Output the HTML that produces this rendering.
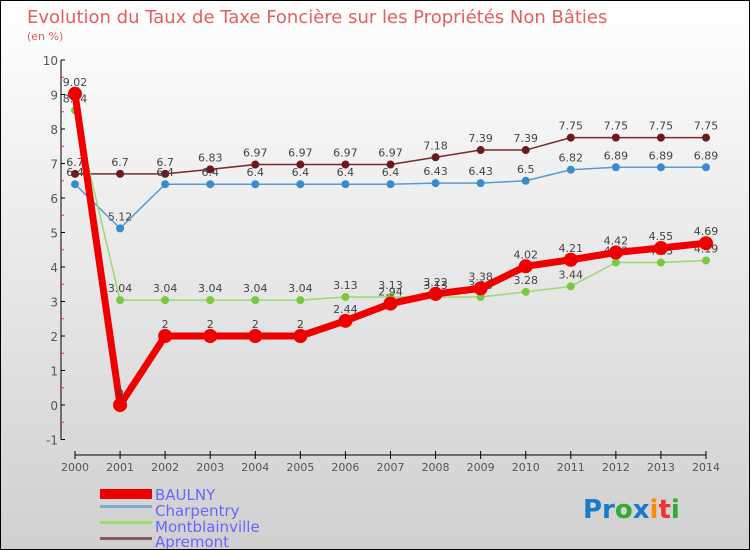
<!DOCTYPE html>
<html><head><meta charset="utf-8"><style>
body{margin:0}
#c{width:748px;height:548px;border:1px solid #000;background:linear-gradient(#fff,#d0d0d0);position:relative;font-family:"DejaVu Sans","Liberation Sans",sans-serif;overflow:hidden}
svg{position:absolute;left:0;top:0}
</style></head><body>
<div id="c">
<svg id="s" width="748" height="548" font-family="DejaVu Sans, Liberation Sans, sans-serif">
<text x="26" y="22" font-size="18" fill="#e06060">Evolution du Taux de Taxe Foncière sur les Propriétés Non Bâties</text>
<text x="26" y="39" font-size="11" fill="#e06060">(en %)</text>
<g font-size="15" fill="#6666ff">
<rect x="99" y="488" width="52" height="10" fill="#e00"/>
<text x="154" y="499">BAULNY</text>
<rect x="99" y="504" width="52" height="3" fill="#7aaad0"/>
<text x="154" y="515">Charpentry</text>
<rect x="99" y="520" width="52" height="3" fill="#9ad870"/>
<text x="154" y="531">Montblainville</text>
<rect x="99" y="536" width="52" height="3" fill="#8a5a5a"/>
<text x="154" y="546">Apremont</text>
</g>
<text x="582" y="517" font-size="26" font-weight="bold"><tspan fill="#1a7ac8">Pr</tspan><tspan fill="#3a3">o</tspan><tspan fill="#1a7ac8">x</tspan><tspan fill="#f80">i</tspan><tspan fill="#e33">t</tspan><tspan fill="#3a3">i</tspan></text>
</svg>
</div>
<script>
const years=["2000","2001","2002","2003","2004","2005","2006","2007","2008","2009","2010","2011","2012","2013","2014"];
const yTicks=[-1,0,1,2,3,4,5,6,7,8,9,10];
const baulny=[9.02,0,2,2,2,2,2.44,2.94,3.22,3.38,4.02,4.21,4.42,4.55,4.69];
const charpentry=[6.4,5.12,6.4,6.4,6.4,6.4,6.4,6.4,6.43,6.43,6.5,6.82,6.89,6.89,6.89];
const montblainville=[8.54,3.04,3.04,3.04,3.04,3.04,3.13,3.13,3.13,3.13,3.28,3.44,4.13,4.13,4.19];
const apremont=[6.7,6.7,6.7,6.83,6.97,6.97,6.97,6.97,7.18,7.39,7.39,7.75,7.75,7.75,7.75];
const NS="http://www.w3.org/2000/svg",s=document.getElementById('s');
const X=i=>74+i*(631/(years.length-1));
const Y=v=>404-v*34.5;
function el(t,a,p){const e=document.createElementNS(NS,t);for(const k in a)e.setAttribute(k,a[k]);(p||s).appendChild(e);return e;}
const ax=el('g',{});


const yl=el('line',{x1:60,x2:60,y1:Y(10),y2:Y(-1),stroke:'#000'},ax);


yTicks.forEach(v=>{
 el('line',{x1:60,x2:64,y1:Y(v),y2:Y(v),stroke:'#000'},ax);
 if(v<10)el('line',{x1:60,x2:63,y1:Y(v+0.5),y2:Y(v+0.5),stroke:'#e33'},ax);
 const t=el('text',{x:57,y:Y(v)+5,'text-anchor':'end','font-size':12,fill:'#555'},ax);t.textContent=v;
 
 
});
const xl=el('line',{x1:X(0),x2:X(years.length-1),y1:454,y2:454,stroke:'#000'},ax);


years.forEach((y,i)=>{
 el('line',{x1:X(i),x2:X(i),y1:450,y2:458,stroke:'#000'},ax);
 const t=el('text',{x:X(i),y:470,'text-anchor':'middle','font-size':11,fill:'#555'},ax);t.textContent=y;
 
 
});
function series(name,data,color,dot,w,r){
 const g=el('g',{});
 
 
 el('polyline',{points:data.map((v,i)=>X(i)+','+Y(v)).join(' '),fill:'none',stroke:color,'stroke-width':w,'stroke-linejoin':'round'},g);
 data.forEach((v,i)=>{
  const c=el('circle',{cx:X(i),cy:Y(v),r:r,fill:dot},g);
  
  
  const t=el('text',{x:X(i),y:Y(v)-8,'text-anchor':'middle','font-size':11,fill:'#444'},g);t.textContent=v;
  
  
 });
}
series('apremont',apremont,'#7a2a2a','#6a1a1a',1.5,4);
series('charpentry',charpentry,'#5a9ad0','#3a8ad0',1.5,4);
series('montblainville',montblainville,'#9ad870','#7ac840',1.5,4);
series('baulny',baulny,'#e00','#e00',7,7);
</script>
</body></html>
